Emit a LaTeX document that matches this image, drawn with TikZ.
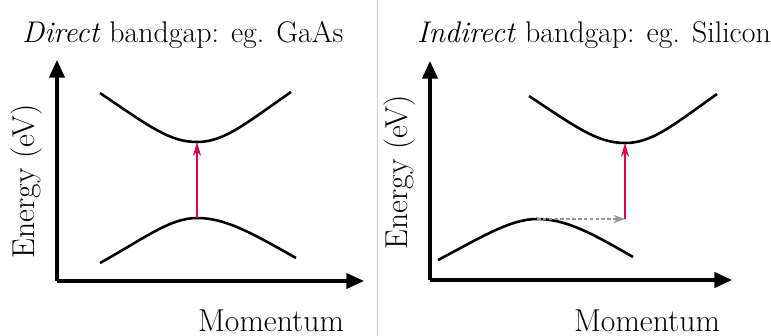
\documentclass[tikz,border=0pt]{standalone}
\usetikzlibrary{arrows.meta}
\definecolor{bandred}{RGB}{226, 0, 70}
\definecolor{divgray}{RGB}{205, 205, 205}
\definecolor{phonongray}{RGB}{150, 150, 160}

\begin{document}
\begin{tikzpicture}[x=0.3mm, y=-0.3mm,
    axis/.style={line width=2.7pt, -{Triangle[length=15pt, width=13pt]}},
    band/.style={line width=2.2pt},
    excite/.style={draw=bandred, line width=1.4pt, -{Stealth[length=12pt, width=7pt]}},
    phonon/.style={draw=phonongray, densely dashed, line width=1pt, -{Stealth[length=10pt, width=7pt]}},
    titlelbl/.style={font=\fontsize{25.5}{30}\selectfont, anchor=base west, inner sep=0pt},
    axislbl/.style={font=\fontsize{27}{32}\selectfont, inner sep=0pt}
]
\useasboundingbox (0,0) rectangle (771,336);

% === Separador entre paneles ===
\draw[divgray, line width=0.8pt] (377,0) -- (377,336);

% === Panel izquierdo: bandgap directo ===
\node[titlelbl] (dtitle) at (22,42) {\textit{Direct} bandgap: eg. GaAs};
\coordinate (dorig) at (57,281);
\coordinate (dytip) at (57,60);
\coordinate (dxtip) at (364,281);
\draw[axis] (dorig) -- (dytip);
\draw[axis] (dorig) -- (dxtip);
\node[axislbl, rotate=90] (denergy) at (27,181) {Energy (eV)};
\node[axislbl, anchor=base] (dmom) at (271,331) {Momentum};

% bandas
\coordinate (dcbmin) at (197,142);
\coordinate (dvbmax) at (197,218);
\draw[band] (100,93) .. controls (150,127) and (170,142) .. (dcbmin)
    .. controls (224,142) and (245,124) .. (291,92);
\draw[band] (100,263) .. controls (145,238) and (170,218) .. (dvbmax)
    .. controls (225,218) and (250,232) .. (296,258);
\draw[excite] (dvbmax) -- (dcbmin);

% === Panel derecho: bandgap indirecto ===
\node[titlelbl] (ititle) at (417,42) {\textit{Indirect} bandgap: eg. Silicon};
\coordinate (iorig) at (430,280);
\coordinate (iytip) at (430,61);
\coordinate (ixtip) at (732,280);
\draw[axis] (iorig) -- (iytip);
\draw[axis] (iorig) -- (ixtip);
\node[axislbl, rotate=90] (ienergy) at (400,172) {Energy (eV)};
\node[axislbl, anchor=base] (imom) at (647,331) {Momentum};

% bandas
\coordinate (icbmin) at (625,143);
\coordinate (ivbmax) at (537,219);
\coordinate (iphon) at (625,219);
\draw[band] (529,96) .. controls (577,128) and (598,143) .. (icbmin)
    .. controls (652,143) and (672,126) .. (717,94);
\draw[band] (438,260) .. controls (480,238) and (510,219) .. (ivbmax)
    .. controls (565,219) and (590,232) .. (633,257);
\draw[phonon] (ivbmax) -- (iphon);
\draw[excite] (iphon) -- (icbmin);

\end{tikzpicture}
\end{document}
